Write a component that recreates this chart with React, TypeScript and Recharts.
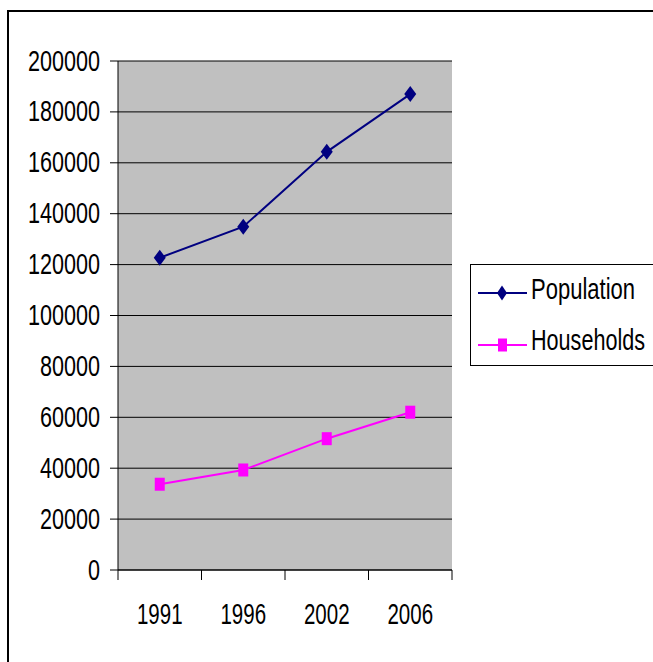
import { LineChart, Line, XAxis, YAxis, CartesianGrid, Legend } from 'recharts';

const years = ['1991', '1996', '2002', '2006'];
const population = [122700, 134900, 164300, 187000];
const households = [33700, 39300, 51600, 62000];
const yTicks = [0, 20000, 40000, 60000, 80000, 100000, 120000, 140000, 160000, 180000, 200000];

const seriesNames = ['Population', 'Households'];
const seriesColors = ['#000080', '#FF00FF'];

const data = years.map((year, i) => ({
  year,
  Population: population[i],
  Households: households[i],
}));

// the original uses a condensed sans; squeeze Liberation Sans with textLength
const FONT = '"Liberation Sans", Arial, sans-serif';
const FONT_SIZE = 29;
const BAND = (452 - 118) / 4;

const Diamond = (props: any) => {
  const { cx, cy } = props;
  if (cx == null || cy == null) return null;
  return (
    <polygon
      points={`${cx},${cy - 8} ${cx + 6},${cy} ${cx},${cy + 8} ${cx - 6},${cy}`}
      fill={seriesColors[0]}
    />
  );
};

const Square = (props: any) => {
  const { cx, cy } = props;
  if (cx == null || cy == null) return null;
  return <rect x={cx - 5} y={cy - 6.5} width={10} height={13} fill={seriesColors[1]} />;
};

const XTick = (props: any) => {
  const { x, y, payload, index, visibleTicksCount } = props;
  const label = String(payload.value);
  return (
    <g>
      <line x1={x - BAND / 2} x2={x - BAND / 2} y1={y} y2={y + 10} stroke="#000" />
      {index === visibleTicksCount - 1 && (
        <line x1={x + BAND / 2} x2={x + BAND / 2} y1={y} y2={y + 10} stroke="#000" />
      )}
      <text
        x={x}
        y={y + 53.5}
        textAnchor="middle"
        fontSize={FONT_SIZE}
        fontFamily={FONT}
        fill="#000"
        textLength={label.length * 11.4}
        lengthAdjust="spacingAndGlyphs"
      >
        {label}
      </text>
    </g>
  );
};

const YTick = (props: any) => {
  const { x, y, payload } = props;
  const label = String(payload.value);
  return (
    <text
      x={x}
      y={y + 9.5}
      textAnchor="end"
      fontSize={FONT_SIZE}
      fontFamily={FONT}
      fill="#000"
      textLength={label.length * 12}
      lengthAdjust="spacingAndGlyphs"
    >
      {label}
    </text>
  );
};

const LegendBox = () => (
  <svg width={183} height={102} style={{ display: 'block' }}>
    <rect x={0.5} y={0.5} width={200} height={101} fill="#fff" stroke="#000" />
    <line x1={8} x2={57} y1={29} y2={29} stroke={seriesColors[0]} strokeWidth={2} />
    <polygon points="32,21.5 37,29 32,36.5 27,29" fill={seriesColors[0]} />
    <text
      x={61}
      y={35}
      fontSize={FONT_SIZE}
      fontFamily={FONT}
      fill="#000"
      textLength={104}
      lengthAdjust="spacingAndGlyphs"
    >
      {seriesNames[0]}
    </text>
    <line x1={8} x2={57} y1={81} y2={81} stroke={seriesColors[1]} strokeWidth={2} />
    <rect x={28} y={74.5} width={9} height={13} fill={seriesColors[1]} />
    <text
      x={61}
      y={86}
      fontSize={FONT_SIZE}
      fontFamily={FONT}
      fill="#000"
      textLength={114}
      lengthAdjust="spacingAndGlyphs"
    >
      {seriesNames[1]}
    </text>
  </svg>
);

export default function App() {
  return (
    <div
      style={{
        position: 'absolute',
        left: 0,
        top: 0,
        width: 653,
        height: 662,
        overflow: 'hidden',
        background: '#fff',
      }}
    >
      <div
        style={{
          position: 'absolute',
          left: 7,
          top: 10,
          width: 700,
          height: 700,
          borderTop: '2px solid #000',
          borderLeft: '2px solid #000',
        }}
      />
      <LineChart
        width={653}
        height={662}
        data={data}
        margin={{ top: 61, right: 201, bottom: 0, left: 0 }}
        style={{ fontFamily: FONT }}
      >
        <CartesianGrid
          vertical={false}
          horizontal
          fill="#C0C0C0"
          fillOpacity={1}
          stroke="#000"
        />
        <XAxis
          dataKey="year"
          scale="band"
          height={92}
          tickLine={false}
          tickSize={0}
          tickMargin={0}
          axisLine={{ stroke: '#000' }}
          tick={<XTick />}
          interval={0}
        />
        <XAxis
          xAxisId="top"
          dataKey="year"
          scale="band"
          orientation="top"
          height={0}
          tick={false}
          tickLine={false}
          axisLine={{ stroke: '#808080' }}
        />
        <YAxis
          type="number"
          domain={[0, 200000]}
          ticks={yTicks}
          interval={0}
          width={118}
          tickSize={8}
          tickMargin={10}
          axisLine={{ stroke: '#000' }}
          tickLine={{ stroke: '#000' }}
          tick={<YTick />}
        />
        <YAxis
          yAxisId="right"
          orientation="right"
          type="number"
          domain={[0, 200000]}
          width={0}
          tick={false}
          tickLine={false}
          axisLine={{ stroke: '#808080' }}
        />
        <Legend
          layout="vertical"
          align="center"
          verticalAlign="middle"
          wrapperStyle={{ left: 470, top: 264, width: 183, height: 102 }}
          content={<LegendBox />}
        />
        <Line
          dataKey="Population"
          stroke={seriesColors[0]}
          strokeWidth={2}
          dot={<Diamond />}
          activeDot={false}
          isAnimationActive={false}
        />
        <Line
          dataKey="Households"
          stroke={seriesColors[1]}
          strokeWidth={2}
          dot={<Square />}
          activeDot={false}
          isAnimationActive={false}
        />
      </LineChart>
    </div>
  );
}
